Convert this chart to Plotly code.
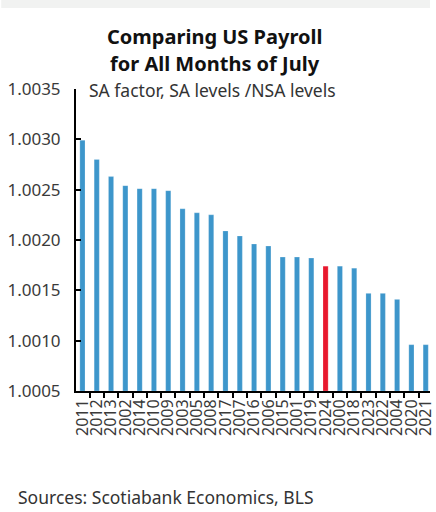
import plotly.graph_objects as go

years = ["2011", "2012", "2013", "2002", "2014", "2010", "2009", "2003", "2005", "2008",
         "2017", "2007", "2016", "2006", "2015", "2001", "2019", "2024", "2000", "2018",
         "2023", "2022", "2004", "2020", "2021"]
values = [1.00299, 1.00280, 1.00263, 1.00254, 1.00251, 1.00251, 1.00249, 1.00231, 1.00227, 1.00225,
          1.00209, 1.00204, 1.00196, 1.00194, 1.00183, 1.00183, 1.00182, 1.00174, 1.00174, 1.00172,
          1.00147, 1.00147, 1.00141, 1.00096, 1.00096]
highlight = "2024"
y_ticks = [1.0005, 1.0010, 1.0015, 1.0020, 1.0025, 1.0030, 1.0035]

BLUE = "#3d96cb"
RED = "#e8182e"
colors = [RED if y == highlight else BLUE for y in years]
base = 1.0005

fig = go.Figure(go.Bar(
    x=years,
    y=[v - base for v in values],
    base=base,
    marker=dict(color=colors, line=dict(color="rgba(255,255,255,0.35)", width=0.6)),
    width=0.36,
))

FONT = "Noto Sans"
fig.update_layout(
    width=436, height=512,
    margin=dict(l=76, r=0, t=89, b=121),
    paper_bgcolor="white", plot_bgcolor="white",
    showlegend=False,
    font=dict(family=FONT, color="#333333"),
    xaxis=dict(
        type="category", range=[-0.45, 24.3],
        tickmode="array", tickvals=years, ticktext=years,
        showline=True, linecolor="black", linewidth=2,
        ticks="outside", tickson="boundaries", ticklen=5, tickwidth=2, tickcolor="black",
        tickangle=-90, tickfont=dict(size=16, color="#3a3a3a", family=FONT),
        showgrid=False, zeroline=False,
    ),
    yaxis=dict(
        range=[1.0005, 1.0035], tickvals=y_ticks,
        ticktext=[f"{t:.4f}" for t in y_ticks],
        showline=True, linecolor="black", linewidth=2,
        ticks="inside", ticklen=5, tickwidth=2, tickcolor="black",
        tickfont=dict(size=17, color="#3a3a3a", family=FONT),
        ticklabelstandoff=10,
        showgrid=False, zeroline=False,
    ),
    shapes=[dict(type="rect", xref="paper", yref="paper",
                 x0=-76/360, x1=1, y0=(391-8)/302, y1=391/302,
                 fillcolor="#f1f2f1", line=dict(width=0), layer="below")],
    annotations=[
        dict(text="<b>Comparing US Payroll</b>", xref="paper", yref="paper",
             x=(217-76)/360, y=(391-36)/302, xanchor="center", yanchor="middle",
             showarrow=False, font=dict(size=20, color="#111111", family=FONT)),
        dict(text="<b>for All Months of July</b>", xref="paper", yref="paper",
             x=(217-76)/360, y=(391-64)/302, xanchor="center", yanchor="middle",
             showarrow=False, font=dict(size=20, color="#111111", family=FONT)),
        dict(text="SA factor, SA levels /NSA levels", xref="paper", yref="paper",
             x=(87-76)/360, y=(391-90)/302, xanchor="left", yanchor="middle",
             showarrow=False, font=dict(size=17.5, color="#333333", family=FONT)),
        dict(text="Sources: Scotiabank Economics, BLS", xref="paper", yref="paper",
             x=(15-76)/360, y=(391-497)/302, xanchor="left", yanchor="middle",
             showarrow=False, font=dict(size=17.5, color="#333333", family=FONT)),
    ],
)

fig.write_html("out.html")
